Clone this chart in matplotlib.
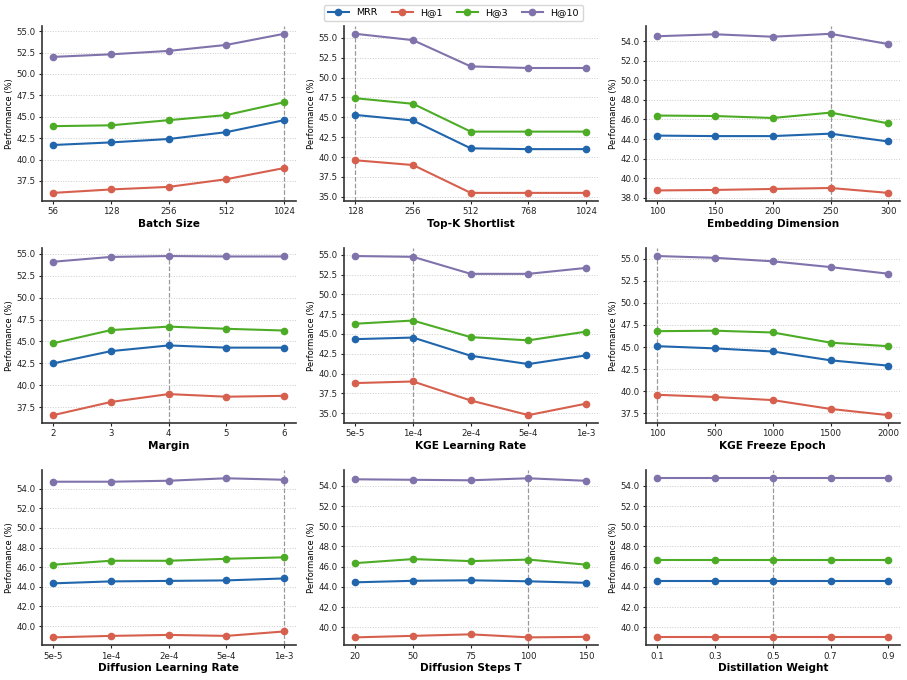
import matplotlib
matplotlib.use("Agg")
import matplotlib.pyplot as plt
from matplotlib.ticker import FormatStrFormatter

series_names = ["MRR", "H@1", "H@3", "H@10"]
colors = ["#2166ac", "#d6604d", "#4dac26", "#8073ac"]

# Batch Size
batch_labels = ["56", "128", "256", "512", "1024"]
batch_mrr = [41.7, 42.0, 42.4, 43.2, 44.6]
batch_h1 = [36.1, 36.5, 36.8, 37.7, 39.0]
batch_h3 = [43.9, 44.0, 44.6, 45.2, 46.7]
batch_h10 = [52.0, 52.3, 52.7, 53.4, 54.7]

# Top-K Shortlist
topk_labels = ["128", "256", "512", "768", "1024"]
topk_mrr = [45.3, 44.6, 41.1, 41.0, 41.0]
topk_h1 = [39.6, 39.0, 35.5, 35.5, 35.5]
topk_h3 = [47.4, 46.7, 43.2, 43.2, 43.2]
topk_h10 = [55.5, 54.7, 51.4, 51.2, 51.2]

# Embedding Dimension
emb_labels = ["100", "150", "200", "250", "300"]
emb_mrr = [44.35, 44.3, 44.3, 44.55, 43.75]
emb_h1 = [38.75, 38.8, 38.9, 39.0, 38.5]
emb_h3 = [46.4, 46.35, 46.15, 46.7, 45.6]
emb_h10 = [54.5, 54.7, 54.45, 54.75, 53.7]

# Margin
margin_labels = ["2", "3", "4", "5", "6"]
margin_mrr = [42.5, 43.9, 44.55, 44.3, 44.3]
margin_h1 = [36.6, 38.1, 39.0, 38.7, 38.8]
margin_h3 = [44.8, 46.3, 46.7, 46.45, 46.25]
margin_h10 = [54.1, 54.65, 54.75, 54.7, 54.7]

# KGE Learning Rate
kgelr_labels = ["5e-5", "1e-4", "2e-4", "5e-4", "1e-3"]
kgelr_mrr = [44.35, 44.55, 42.25, 41.2, 42.3]
kgelr_h1 = [38.8, 39.0, 36.6, 34.75, 36.2]
kgelr_h3 = [46.3, 46.7, 44.6, 44.2, 45.3]
kgelr_h10 = [54.85, 54.75, 52.6, 52.6, 53.35]

# KGE Freeze Epoch
freeze_labels = ["100", "500", "1000", "1500", "2000"]
freeze_mrr = [45.1, 44.85, 44.5, 43.5, 42.9]
freeze_h1 = [39.6, 39.35, 39.0, 38.0, 37.3]
freeze_h3 = [46.8, 46.85, 46.65, 45.5, 45.1]
freeze_h10 = [55.3, 55.1, 54.7, 54.05, 53.3]

# Diffusion Learning Rate
difflr_labels = ["5e-5", "1e-4", "2e-4", "5e-4", "1e-3"]
difflr_mrr = [44.35, 44.55, 44.6, 44.65, 44.85]
difflr_h1 = [38.85, 39.0, 39.1, 39.0, 39.45]
difflr_h3 = [46.25, 46.65, 46.65, 46.85, 47.0]
difflr_h10 = [54.7, 54.7, 54.8, 55.05, 54.9]

# Diffusion Steps T
steps_labels = ["20", "50", "75", "100", "150"]
steps_mrr = [44.45, 44.6, 44.65, 44.55, 44.4]
steps_h1 = [39.0, 39.15, 39.3, 39.0, 39.05]
steps_h3 = [46.35, 46.75, 46.55, 46.7, 46.2]
steps_h10 = [54.65, 54.6, 54.55, 54.75, 54.5]

# Distillation Weight
distill_labels = ["0.1", "0.3", "0.5", "0.7", "0.9"]
distill_mrr = [44.55, 44.55, 44.55, 44.55, 44.55]
distill_h1 = [39.0, 39.0, 39.0, 39.0, 39.0]
distill_h3 = [46.7, 46.7, 46.7, 46.7, 46.7]
distill_h10 = [54.75, 54.75, 54.75, 54.75, 54.75]

panels = [
    ("Batch Size", batch_labels, [batch_mrr, batch_h1, batch_h3, batch_h10], 4),
    ("Top-K Shortlist", topk_labels, [topk_mrr, topk_h1, topk_h3, topk_h10], 0),
    ("Embedding Dimension", emb_labels, [emb_mrr, emb_h1, emb_h3, emb_h10], 3),
    ("Margin", margin_labels, [margin_mrr, margin_h1, margin_h3, margin_h10], 2),
    ("KGE Learning Rate", kgelr_labels, [kgelr_mrr, kgelr_h1, kgelr_h3, kgelr_h10], 1),
    ("KGE Freeze Epoch", freeze_labels, [freeze_mrr, freeze_h1, freeze_h3, freeze_h10], 0),
    ("Diffusion Learning Rate", difflr_labels, [difflr_mrr, difflr_h1, difflr_h3, difflr_h10], 4),
    ("Diffusion Steps T", steps_labels, [steps_mrr, steps_h1, steps_h3, steps_h10], 3),
    ("Distillation Weight", distill_labels, [distill_mrr, distill_h1, distill_h3, distill_h10], 2),
]

plt.rcParams['font.family'] = ['DejaVu Sans']
fig, axes = plt.subplots(3, 3, figsize=(9.07, 6.8), dpi=100)
fig.subplots_adjust(left=0.046, right=0.992, top=0.962, bottom=0.051,
                    wspace=0.19, hspace=0.27)

handles = []
for ax, (xlabel, labels, data, best) in zip(axes.flat, panels):
    x = list(range(len(labels)))
    for name, vals, c in zip(series_names, data, colors):
        h, = ax.plot(x, vals, color=c, marker='o', markersize=4.5, linewidth=1.5,
                     label=name, zorder=3)
        if ax is axes.flat[0]:
            handles.append(h)
    ax.axvline(best, color='#999999', linestyle='--', linewidth=0.9, zorder=1)
    ax.set_xticks(x)
    ax.set_xticklabels(labels)
    ax.set_xlim(-0.2, len(labels) - 0.8)
    ax.set_xlabel(xlabel, fontsize=7.6, fontweight='bold', labelpad=2)
    ax.set_ylabel("Performance (%)", fontsize=6, labelpad=2)
    ax.yaxis.set_major_formatter(FormatStrFormatter('%.1f'))
    ax.tick_params(axis='both', labelsize=6.2, length=2.5, width=0.8, pad=2,
                   colors='#222222')
    ax.grid(axis='y', linestyle=':', color='#cccccc', linewidth=0.7)
    ax.set_axisbelow(True)
    for s in ['top', 'right']:
        ax.spines[s].set_visible(False)
    for s in ['left', 'bottom']:
        ax.spines[s].set_linewidth(1.2)
        ax.spines[s].set_color('#333333')

fig.legend(handles, series_names, loc='upper center', ncol=4, fontsize=6.8,
           bbox_to_anchor=(0.5, 1.0), frameon=True, handlelength=2.2,
           columnspacing=1.5, borderpad=0.4)

fig.savefig("out.png", dpi=100)
